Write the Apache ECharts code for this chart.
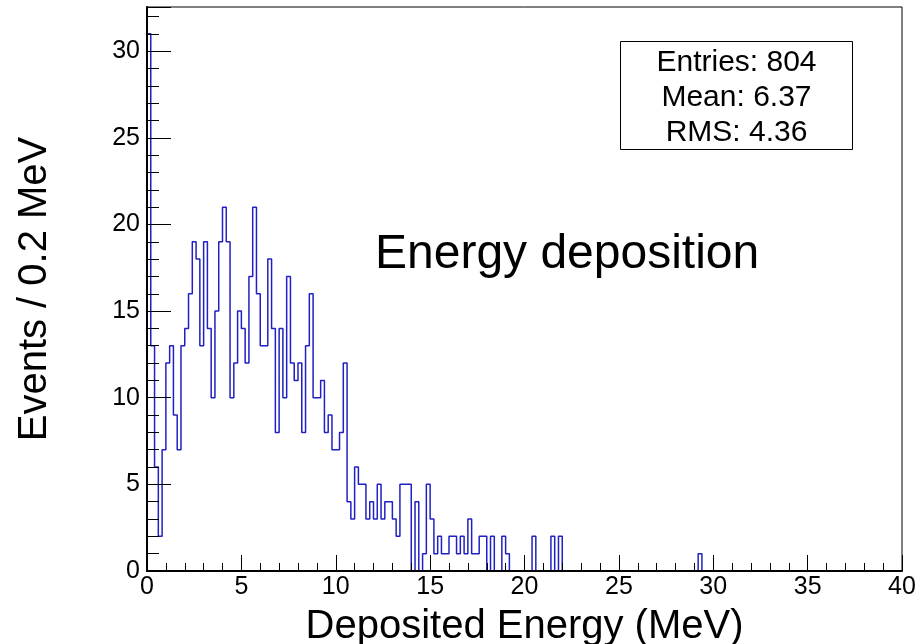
<!DOCTYPE html>
<html>
<head>
<meta charset="utf-8">
<title>Energy deposition</title>
<script src="https://cdn.jsdelivr.net/npm/echarts@6/dist/echarts.min.js"></script>
<style>
  html, body { margin: 0; padding: 0; background: #ffffff; }
  #chart { width: 920px; height: 644px; }
</style>
</head>
<body>
<div id="chart"></div>
<script>
// Histogram definition: 200 bins of 0.2 MeV covering 0 - 40 MeV
const binLow = 0;
const binWidth = 0.2;
const nBins = 200;

// Events per bin
const counts = [
  31, 13,  6,  2,  7, 12, 13,  9,  7, 13,   14, 16, 19, 18, 13, 19, 14, 10, 15, 19,
  21, 19, 10, 12, 15, 14, 12, 17, 21, 16,   13, 13, 18, 14,  8, 14, 10, 17, 12, 11,
  12,  8, 13, 16, 10, 10, 11,  8,  9,  7,    7,  8, 12,  4,  3,  6,  5,  5,  3,  4,
   3,  5,  3,  4,  4,  3,  2,  5,  5,  5,    0,  4,  0,  1,  5,  3,  1,  2,  1,  1,
   2,  2,  1,  2,  1,  3,  1,  1,  2,  2,    0,  2,  0,  0,  2,  1,  0,  0,  0,  0,
   0,  0,  2,  0,  0,  0,  0,  2,  0,  2,    0,  0,  0,  0,  0,  0,  0,  0,  0,  0,
   0,  0,  0,  0,  0,  0,  0,  0,  0,  0,    0,  0,  0,  0,  0,  0,  0,  0,  0,  0,
   0,  0,  0,  0,  0,  0,  1,  0,  0,  0,    0,  0,  0,  0,  0,  0,  0,  0,  0,  0,
   0,  0,  0,  0,  0,  0,  0,  0,  0,  0,    0,  0,  0,  0,  0,  0,  0,  0,  0,  0,
   0,  0,  0,  0,  0,  0,  0,  0,  0,  0,    0,  0,  0,  0,  0,  0,  0,  0,  0,  0
];

// Axis ranges and tick labels
const xRange = [0, 40];
const yRange = [0, 32.55];
const xTickValues = [0, 5, 10, 15, 20, 25, 30, 35, 40];
const xTickLabels = ['0', '5', '10', '15', '20', '25', '30', '35', '40'];
const yTickValues = [0, 5, 10, 15, 20, 25, 30];
const yTickLabels = ['0', '5', '10', '15', '20', '25', '30'];

// Texts
const xTitle = 'Deposited Energy (MeV)';
const yTitle = 'Events / 0.2 MeV';
const plotLabel = 'Energy deposition';
const statsLines = ['Entries: 804', 'Mean: 6.37', 'RMS: 4.36'];

// Build the step outline: one point per bin low edge, closed at the upper edge
const outline = [[binLow, 0]];
for (let i = 0; i < nBins; i++) {
  outline.push([binLow + i * binWidth, counts[i]]);
}
outline.push([binLow + nBins * binWidth, counts[nBins - 1]]);

const FONT = '"Liberation Sans", Arial, Helvetica, sans-serif';
const LINE_BLUE = '#2020c4';

function lookupLabel(values, labels, v) {
  for (let i = 0; i < values.length; i++) {
    if (Math.abs(values[i] - v) < 1e-6) return labels[i];
  }
  return '';
}

const chart = echarts.init(document.getElementById('chart'), null, { renderer: 'canvas' });

chart.setOption({
  animation: false,
  backgroundColor: '#ffffff',
  grid: {
    left: 147, right: 18, top: 7, bottom: 73,
    containLabel: false,
    outerBoundsMode: 'none',
    show: true, borderColor: '#000000', borderWidth: 1,
    backgroundColor: 'transparent'
  },
  xAxis: {
    type: 'value',
    min: xRange[0], max: xRange[1], interval: 5,
    z: 5,
    axisLine: { onZero: false, lineStyle: { color: '#000000', width: 2 } },
    axisTick: { inside: true, length: 16, lineStyle: { color: '#000000', width: 1 } },
    minorTick: { show: true, splitNumber: 5, length: 8, lineStyle: { color: '#000000', width: 1 } },
    splitLine: { show: false },
    minorSplitLine: { show: false },
    axisLabel: {
      color: '#000000', fontSize: 25, fontFamily: FONT, margin: 4,
      formatter: v => lookupLabel(xTickValues, xTickLabels, v)
    },
    name: xTitle,
    nameLocation: 'middle',
    nameGap: 36,
    nameTextStyle: { color: '#000000', fontSize: 40, fontFamily: FONT }
  },
  yAxis: {
    type: 'value',
    min: yRange[0], max: yRange[1], interval: 5,
    z: 5,
    axisLine: { onZero: false, lineStyle: { color: '#000000', width: 2 } },
    axisTick: { inside: true, length: 24, lineStyle: { color: '#000000', width: 1 } },
    minorTick: { show: true, splitNumber: 5, length: 12, lineStyle: { color: '#000000', width: 1 } },
    splitLine: { show: false },
    minorSplitLine: { show: false },
    axisLabel: {
      color: '#000000', fontSize: 25, fontFamily: FONT, margin: 7,
      showMaxLabel: false,
      formatter: v => lookupLabel(yTickValues, yTickLabels, v)
    },
    name: yTitle,
    nameLocation: 'middle',
    nameRotate: 90,
    nameGap: 92,
    nameTextStyle: { color: '#000000', fontSize: 40, fontFamily: FONT }
  },
  series: [{
    type: 'line',
    step: 'end',
    data: outline,
    symbol: 'none',
    clip: true,
    z: 2,
    lineStyle: { color: LINE_BLUE, width: 1.5 }
  }],
  graphic: [
    {
      type: 'text',
      left: 375,
      top: 231,
      z: 10,
      style: {
        text: plotLabel,
        x: 0, y: 0,
        fill: '#000000',
        font: '48px ' + FONT,
        textVerticalAlign: 'middle'
      }
    },
    {
      type: 'group',
      left: 620,
      top: 41,
      z: 10,
      children: [
        {
          type: 'rect',
          shape: { x: 0.5, y: 0.5, width: 232, height: 108 },
          style: { fill: '#ffffff', stroke: '#000000', lineWidth: 1 }
        }
      ].concat(statsLines.map((line, i) => ({
        type: 'text',
        style: {
          text: line,
          x: 116.5,
          y: 22 + i * 35,
          fill: '#000000',
          font: '30px ' + FONT,
          textAlign: 'center',
          textVerticalAlign: 'middle'
        }
      })))
    }
  ]
});
</script>
</body>
</html>
